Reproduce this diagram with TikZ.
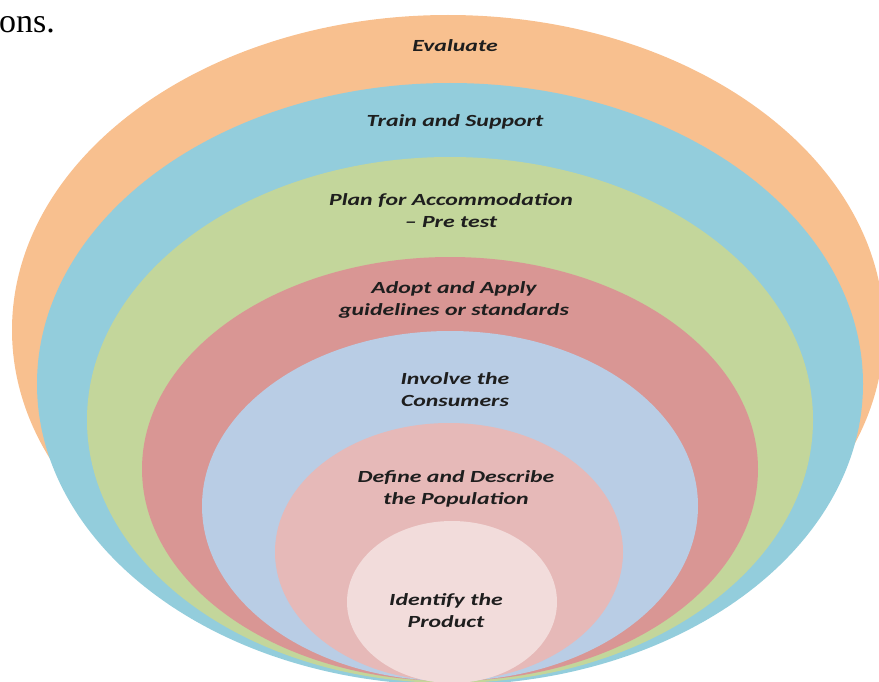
\documentclass[tikz,border=0pt]{standalone}
\usepackage{fontspec}
\setmainfont{Carlito}
\newfontfamily\ringfont{Carlito}[FakeStretch=1.4]
\newfontfamily\bodyserif{Liberation Serif}
\definecolor{ringEval}{HTML}{F8C08F}
\definecolor{ringTrain}{HTML}{93CDDC}
\definecolor{ringPlan}{HTML}{C3D69B}
\definecolor{ringAdopt}{HTML}{D99694}
\definecolor{ringInvolve}{HTML}{B9CDE5}
\definecolor{ringDefine}{HTML}{E6B9B8}
\definecolor{ringProduct}{HTML}{F2DCDB}
\definecolor{labelInk}{HTML}{1E1E1E}
\tikzset{
  ringlabel/.style={align=center, text=labelInk, inner sep=0pt,
    font=\ringfont\fontsize{17}{22}\selectfont\bfseries\itshape},
}
\begin{document}
\begin{tikzpicture}[x=1pt,y=-1pt]
\useasboundingbox (0,0) rectangle (879,682);
\clip (0,0) rectangle (879,682);
% nested rings, outermost first
\fill[ringEval]    (448,330) ellipse [x radius=436pt, y radius=315pt];
\fill[ringTrain]   (450,384) ellipse [x radius=413pt, y radius=301pt];
\fill[ringPlan]    (450,420) ellipse [x radius=363pt, y radius=263pt];
\fill[ringAdopt]   (450,469) ellipse [x radius=308pt, y radius=212pt];
\fill[ringInvolve] (450,506) ellipse [x radius=248pt, y radius=175pt];
\fill[ringDefine]  (449,552) ellipse [x radius=174pt, y radius=129pt];
\fill[ringProduct] (452,602) ellipse [x radius=105pt, y radius=81pt];
% ring labels
\node[ringlabel] (evaluate) at (455,46)  {Evaluate};
\node[ringlabel] (train)    at (455,122) {Train and Support};
\node[ringlabel] (plan)     at (451,211) {Plan for Accommodation\\ – Pre test};
\node[ringlabel] (adopt)    at (454,300) {Adopt and Apply\\guidelines or standards};
\node[ringlabel] (involve)  at (455,390) {Involve the\\Consumers};
\node[ringlabel] (define)   at (456,489) {Define and Describe\\the Population};
\node[ringlabel] (product)  at (446,611) {Identify the\\Product};
% fragment of running text above the figure
\node[anchor=base west, inner sep=0pt, font=\bodyserif\fontsize{34}{34}\selectfont] (tail) at (-1,33) {ons.};
\end{tikzpicture}
\end{document}
